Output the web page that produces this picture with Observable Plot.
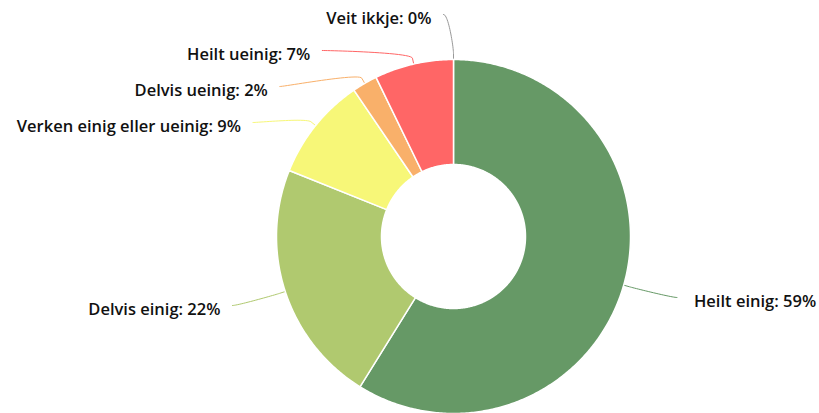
<!DOCTYPE html>
<html>
<head>
<meta charset="utf-8">
<script src="https://cdn.jsdelivr.net/npm/d3@7"></script>
<script src="https://cdn.jsdelivr.net/npm/@observablehq/plot@0.6"></script>
<style>
  html, body { margin: 0; padding: 0; background: #fff; }
  #chart { width: 819px; height: 413px; }
</style>
</head>
<body>
<div id="chart"></div>
<script>
// ---- data ----
const categories = ["Heilt einig", "Delvis einig", "Verken einig eller ueinig", "Delvis ueinig", "Heilt ueinig", "Veit ikkje"];
const values = [58.8, 22.2, 9.4, 2.3, 7.2, 0];
const percentLabels = ["59%", "22%", "9%", "2%", "7%", "0%"];
const colors = ["#669966", "#b0c96f", "#f7f778", "#f9b06a", "#ff6666", "#999999"];

// ---- geometry (px units, relative to pie centre) ----
const W = 819, H = 413;
const CX = 453, CY = 236;
const R = 177, RIN = 72;
const LABEL_R = 222;     // radius used for label placement
const LABEL_PAD = 10;
const BOX = 36;          // vertical space per label
const TEXT_DY = 4;

const total = d3.sum(values);
let acc = 0;
const slices = categories.map((c, i) => {
  const a0 = acc / total * 2 * Math.PI;
  acc += values[i];
  const a1 = acc / total * 2 * Math.PI;
  const mid = (a0 + a1) / 2;
  return {i, c, a0, a1, mid, color: colors[i], text: `${c}: ${percentLabels[i]}`, left: mid > Math.PI};
});

const pt = (r, a) => [r * Math.sin(a), -r * Math.cos(a)];

// slice polygons
const polys = [];
for (const s of slices) {
  if (s.a1 <= s.a0) continue;
  const n = Math.max(2, Math.ceil((s.a1 - s.a0) / 0.01));
  const ring = [];
  for (let k = 0; k <= n; k++) ring.push(pt(R, s.a0 + (s.a1 - s.a0) * k / n));
  for (let k = n; k >= 0; k--) ring.push(pt(RIN, s.a0 + (s.a1 - s.a0) * k / n));
  ring.push(ring[0]);
  for (const [x, y] of ring) polys.push({key: s.c, x, y, fill: s.color});
}

// label distribution (Highcharts-like)
function distribute(items) {
  items.sort((a, b) => a.target - b.target);
  let groups = items.map(it => ({items: [it], target: it.target}));
  const place = g => {
    const size = g.items.length * BOX;
    let top = g.target - size / 2;
    top = Math.max(0, Math.min(H - size, top));
    g.top = top;
  };
  groups.forEach(place);
  let changed = true;
  while (changed) {
    changed = false;
    for (let k = 0; k < groups.length - 1; k++) {
      const g1 = groups[k], g2 = groups[k + 1];
      if (g1.top + g1.items.length * BOX > g2.top) {
        const items2 = g1.items.concat(g2.items);
        const g = {items: items2, target: d3.mean(items2, d => d.target)};
        place(g);
        groups.splice(k, 2, g);
        changed = true;
        break;
      }
    }
  }
  for (const g of groups) g.items.forEach((it, j) => it.y = g.top + BOX / 2 + j * BOX);
}

const labelItems = slices.map(s => ({s, target: CY - LABEL_R * Math.cos(s.mid) + TEXT_DY}));
distribute(labelItems.filter(d => d.s.left));
distribute(labelItems.filter(d => !d.s.left));

const connectors = [];
const labelsOut = [];
for (const it of labelItems) {
  const s = it.s;
  const sign = s.left ? -1 : 1;
  const ly = it.y - TEXT_DY - CY;             // connector end y (relative)
  const lx = sign * (Math.sqrt(Math.max(0, LABEL_R * LABEL_R - ly * ly)) + LABEL_PAD);
  const T = pt(R, s.mid), B = pt(R + 6, s.mid);
  const c1 = [lx - sign * 5, ly], c2 = [2 * B[0] - T[0], 2 * B[1] - T[1]];
  const N = 24;
  for (let k = 0; k <= N; k++) {
    const t = k / N, u = 1 - t;
    const x = u*u*u*lx + 3*u*u*t*c1[0] + 3*u*t*t*c2[0] + t*t*t*B[0];
    const y = u*u*u*ly + 3*u*u*t*c1[1] + 3*u*t*t*c2[1] + t*t*t*B[1];
    connectors.push({key: s.c, x, y, stroke: s.color});
  }
  connectors.push({key: s.c, x: T[0], y: T[1], stroke: s.color});
  labelsOut.push({text: s.text, left: s.left, x: lx + sign * (s.left ? 12 : 17), y: it.y - CY});
}

const textStyle = {fill: "#111", fontSize: 16.5, fontWeight: 600, fontFamily: "Open Sans"};
const chart = Plot.plot({
  width: W,
  height: H,
  margin: 0,
  style: {background: "#fff"},
  x: {domain: [-CX, W - CX], range: [0, W], axis: null},
  y: {domain: [-CY, H - CY], range: [0, H], axis: null},
  color: {type: "identity"},
  marks: [
    Plot.line(connectors, {x: "x", y: "y", z: "key", stroke: "stroke", strokeWidth: 1, curve: "linear"}),
    Plot.line(polys, {x: "x", y: "y", z: "key", fill: "fill", stroke: "#fff", strokeWidth: 1.5, strokeLinejoin: "round", curve: "linear"}),
    Plot.text(labelsOut.filter(d => d.left), {x: "x", y: "y", text: "text", textAnchor: "end", ...textStyle}),
    Plot.text(labelsOut.filter(d => !d.left), {x: "x", y: "y", text: "text", textAnchor: "start", ...textStyle})
  ]
});
document.getElementById("chart").append(chart);
</script>
</body>
</html>
